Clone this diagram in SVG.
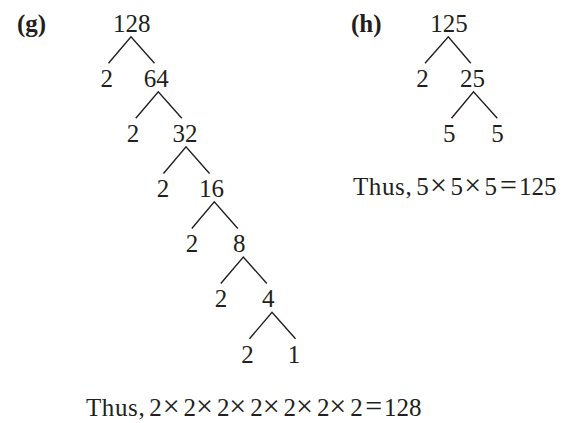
<svg xmlns="http://www.w3.org/2000/svg" width="576" height="423" viewBox="0 0 576 423">
<style>
text{font-family:"Liberation Serif","Times New Roman",serif;font-size:25px;fill:#231f20}
.n{text-anchor:middle}
.b{font-weight:bold}
.m{font-size:30px}
.t{letter-spacing:0.6px}
.e{stroke:#231f20;stroke-width:1.4;fill:none;stroke-linecap:butt}
</style>
<rect width="576" height="423" fill="#fff"/>
<g id="labels">
<text id="label-g" class="b" x="17" y="31.5">(g)</text>
<text id="label-h" class="b" x="351" y="31.5">(h)</text>
</g>
<g id="connectors">
<path class="e" d="M108.5,63.3 L131,36.7 L154.5,63.3"/>
<path class="e" d="M135.8,118.3 L158.3,91.7 L181.8,118.3"/>
<path class="e" d="M163.5,173.5 L186,146.8 L209.5,173.5"/>
<path class="e" d="M191.8,228.5 L214.3,201.8 L237.8,228.5"/>
<path class="e" d="M220.8,283.5 L243.3,257 L266.8,283.5"/>
<path class="e" d="M249.5,338.8 L272,312.2 L295.5,338.8"/>
<path class="e" d="M425,63.3 L448.3,36.7 L470.8,63.3"/>
<path class="e" d="M451.5,118.3 L473.5,91.7 L497.3,118.3"/>
</g>
<g id="n128"><text class="n" x="131.7" y="31.5">128</text></g>
<g id="n2a"><text class="n" x="106.7" y="86.7">2</text></g>
<g id="n64"><text class="n" x="156.3" y="86.7">64</text></g>
<g id="n2b"><text class="n" x="133" y="141.8">2</text></g>
<g id="n32"><text class="n" x="185" y="141.8">32</text></g>
<g id="n2c"><text class="n" x="163" y="197">2</text></g>
<g id="n16"><text class="n" x="211.5" y="197">16</text></g>
<g id="n2d"><text class="n" x="192" y="252.2">2</text></g>
<g id="n8"><text class="n" x="239.2" y="252.2">8</text></g>
<g id="n2e"><text class="n" x="221" y="307.3">2</text></g>
<g id="n4"><text class="n" x="268.3" y="307.3">4</text></g>
<g id="n2f"><text class="n" x="247.5" y="362.5">2</text></g>
<g id="n1"><text class="n" x="294" y="362.5">1</text></g>
<g id="n125"><text class="n" x="449" y="31.5">125</text></g>
<g id="n2h"><text class="n" x="422.5" y="86.5">2</text></g>
<g id="n25"><text class="n" x="472.5" y="86.5">25</text></g>
<g id="n5a"><text class="n" x="449.2" y="141.5">5</text></g>
<g id="n5b"><text class="n" x="497.5" y="141.5">5</text></g>
<g id="result-h"><text y="194.5"><tspan class="t" x="353">Thus,</tspan><tspan x="416.3">5</tspan><tspan class="m" x="430">×</tspan><tspan x="450.6">5</tspan><tspan class="m" x="464.3">×</tspan><tspan x="484.6">5</tspan><tspan class="m" x="500">=</tspan><tspan x="519">125</tspan></text></g>
<g id="result-g"><text y="416"><tspan class="t" x="86">Thus,</tspan><tspan x="149.2">2</tspan><tspan class="m" x="162.7">×</tspan><tspan x="183.5">2</tspan><tspan class="m" x="196">×</tspan><tspan x="216.9">2</tspan><tspan class="m" x="229.3">×</tspan><tspan x="250.2">2</tspan><tspan class="m" x="262.7">×</tspan><tspan x="283.5">2</tspan><tspan class="m" x="296">×</tspan><tspan x="316.9">2</tspan><tspan class="m" x="329.3">×</tspan><tspan x="350.2">2</tspan><tspan class="m" x="365.3">=</tspan><tspan x="384">128</tspan></text></g>
</svg>
